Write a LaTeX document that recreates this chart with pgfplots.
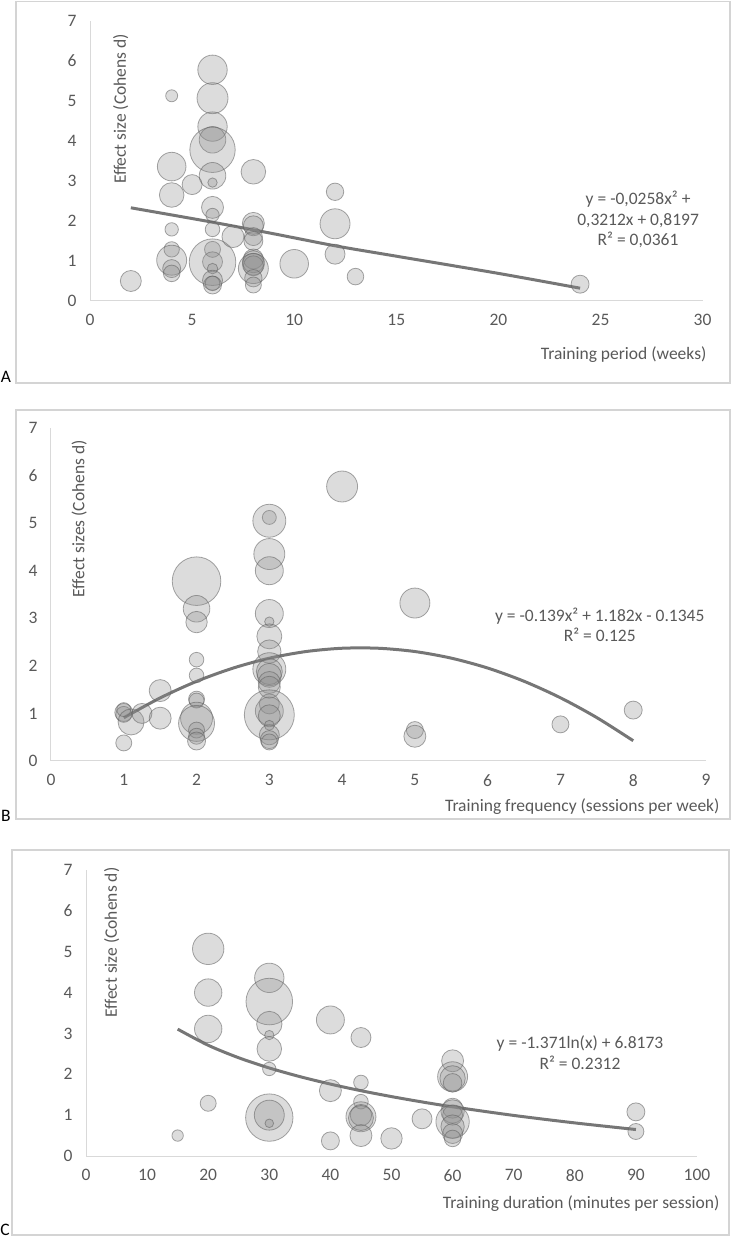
\documentclass[border=0pt]{standalone}
\usepackage{pgfplots}
\pgfplotsset{compat=1.18}
\usepackage{fontspec}
\setmainfont{Carlito}
\definecolor{txt}{HTML}{595959}
\definecolor{axl}{HTML}{D9D9D9}
\definecolor{frm}{HTML}{D4D4D4}
\definecolor{trend}{HTML}{767676}
\definecolor{bfill}{RGB}{140,140,140}
\definecolor{bdraw}{RGB}{95,95,95}
\newcommand{\fs}{\fontsize{17.5}{20.5}\selectfont}

\pgfplotsset{
  panel/.style={
    scale only axis,
    axis x line*=bottom, axis y line*=left,
    axis line style={axl, line width=1pt, -},
    major tick length=0pt,
    ymin=0, ymax=7, ytick={0,...,7},
    tick label style={font=\fs, text=txt},
    /pgf/number format/assume math mode=true,
    xticklabel style={yshift=-10pt},
    yticklabel style={xshift=-10pt},
    label style={font=\fs, text=txt},
  },
  bubbles/.style={
    scatter, only marks, mark=*,
    scatter/use mapped color={draw=bdraw, fill=bfill},
    visualization depends on={\thisrow{r} \as \rad},
    scatter/@pre marker code/.append style={/tikz/mark size=\rad},
    mark options={fill opacity=0.3, draw opacity=0.55, line width=0.8pt},
  },
  trendline/.style={trend, line width=3pt, smooth, no marks},
}

\pgfplotstableread{
x y r
2 0.50 10.5
4 5.13 6
4 3.36 14.3
4 2.65 12.3
4 1.79 6.7
4 1.29 7.7
4 1.02 15
4 0.81 9
4 0.69 8.3
5 2.91 10
6 5.78 14.7
6 5.07 15.5
6 4.36 14.7
6 4.03 13.3
6 3.78 22.7
6 3.13 13.3
6 2.96 4.7
6 2.34 11
6 2.15 6.7
6 1.79 7.3
6 1.29 8
6 0.98 10
6 0.97 23.3
6 0.81 5.3
6 0.52 10
6 0.44 7.3
6 0.40 9
7 1.61 11
8 3.23 12.3
8 1.94 11
8 1.88 10
8 1.61 9
8 1.50 9.5
8 1.05 10
8 0.98 11
8 0.92 11
8 0.88 10
8 0.81 15
8 0.57 8.7
8 0.40 8
10 0.93 14.3
12 2.73 8.7
12 1.93 15
12 1.17 10
13 0.61 8.3
24 0.42 9
}\dataA

\pgfplotstableread{
x y r
1 1.02 9
1 0.98 8
1 1.08 7
1.1 0.82 13
1 0.38 8
1.25 1.0 10
1.5 1.48 11
1.5 0.90 11
2 3.78 24.3
2 3.20 13.3
2 2.92 10.7
2 2.13 7.3
2 1.80 7.3
2 1.30 8
2 1.27 7.5
2 0.90 16
2 0.79 18
2 0.65 8
2 0.52 8
2 0.42 9
3 5.12 7
3 5.05 16.5
3 4.35 15.5
3 4.00 14
3 3.10 14
3 2.93 4.7
3 2.62 12.5
3 2.30 11.7
3 1.93 16.5
3 1.88 13
3 1.80 12
3 1.65 11
3 1.55 11
3 1.20 10
3 1.05 14
3 0.97 25
3 0.95 11
3 0.75 5
3 0.55 10
3 0.45 9
3 0.40 8
4 5.77 15.5
5 3.32 15
5 0.65 8.5
5 0.52 11
7 0.77 8.5
8 1.07 9
}\dataB

\pgfplotstableread{
x y r
15 0.50 5.7
20 5.07 15.7
20 4.00 13.7
20 3.11 13.7
20 1.29 8
30 4.36 14.7
30 3.78 23.3
30 3.23 12.7
30 2.96 4.7
30 2.62 12.3
30 2.13 6.7
30 0.94 23.7
30 1.00 15
30 0.80 4.3
40 3.33 14
40 1.60 11
40 0.37 9
45 2.90 10
45 1.80 7.3
45 1.33 7.3
45 0.96 15
45 1.00 10.7
45 0.93 12.5
45 0.50 11
50 0.43 10.7
55 0.91 10
60 2.33 11
60 1.94 15
60 1.90 12.7
60 1.79 9.3
60 1.17 10
60 1.09 11.7
60 1.00 10
60 0.84 16.7
60 0.72 11.7
60 0.55 10
60 0.43 8.3
90 1.08 9
90 0.60 8
}\dataC

\begin{document}
\begin{tikzpicture}
\useasboundingbox (0,0) rectangle (732pt,1240pt);

% ---------- Panel A ----------
\draw[frm, line width=1.5pt] (16pt,857pt) rectangle (730pt,1238.5pt);
\node[font=\fs, anchor=center] at (6pt,863pt) {A};
\begin{axis}[panel,
  at={(90pt,939pt)}, anchor=south west,
  width=612.6pt, height=280pt,
  xmin=0, xmax=30, xtick={0,5,...,30},
  ylabel={Effect size (Cohens d)},
  ylabel style={at={(axis description cs:0.05,0.686)}, anchor=center},
  xlabel={Training period (weeks)},
  xlabel style={at={(axis description cs:1.012,-0.193)}, anchor=east},
]
\addplot[bubbles] table[x=x, y=y] {\dataA};
\addplot[trendline] coordinates {(2,2.33) (6,1.97) (9,1.68) (12,1.38) (15,1.12) (20,0.69) (24,0.32)};
\node[font=\fs, text=txt, align=center] at (axis cs:26.84,2.03)
  {y = -0,0258x² +\\0,3212x + 0,8197\\R² = 0,0361};
\end{axis}

% ---------- Panel B ----------
\draw[frm, line width=1.5pt] (16pt,421pt) rectangle (730pt,830pt);
\node[font=\fs, anchor=center] at (6pt,424pt) {B};
\begin{axis}[panel,
  at={(51pt,479pt)}, anchor=south west,
  width=655pt, height=333pt,
  xmin=0, xmax=9, xtick={0,...,9},
  ylabel={Effect sizes (Cohens d)},
  ylabel style={at={(axis description cs:0.043,0.728)}, anchor=center},
  xlabel={Training frequency (sessions per week)},
  xlabel style={at={(axis description cs:1.026,-0.138)}, anchor=east},
]
\addplot[bubbles] table[x=x, y=y] {\dataB};
\addplot[trendline] coordinates {(1,0.909) (1.5,1.326) (2,1.674) (2.5,1.952) (3,2.161) (3.5,2.300) (4,2.370) (4.5,2.370) (5,2.301) (5.5,2.162) (6,1.954) (6.5,1.676) (7,1.329) (7.5,0.912) (8,0.426)};
\node[font=\fs, text=txt, align=center] at (axis cs:7.54,2.86)
  {y = -0.139x² + 1.182x - 0.1345\\R² = 0.125};
\end{axis}

% ---------- Panel C ----------
\draw[frm, line width=1.5pt] (12pt,5pt) rectangle (729pt,390pt);
\node[font=\fs, anchor=center] at (5pt,10pt) {C};
\begin{axis}[panel,
  at={(86pt,84pt)}, anchor=south west,
  width=611pt, height=286pt,
  xmin=0, xmax=100, xtick={0,10,...,100},
  ylabel={Effect size (Cohens d)},
  ylabel style={at={(axis description cs:0.042,0.746)}, anchor=center},
  xlabel={Training duration (minutes per session)},
  xlabel style={at={(axis description cs:1.0425,-0.168)}, anchor=east},
]
\addplot[bubbles] table[x=x, y=y] {\dataC};
\addplot[trendline] coordinates {(15,3.105) (20,2.710) (25,2.404) (30,2.154) (35,1.943) (40,1.760) (45,1.598) (50,1.454) (55,1.323) (60,1.204) (70,0.993) (80,0.810) (90,0.648)};
\node[font=\fs, text=txt, align=center] at (axis cs:80.85,2.53)
  {y = -1.371ln(x) + 6.8173\\R² = 0.2312};
\end{axis}
\end{tikzpicture}
\end{document}
